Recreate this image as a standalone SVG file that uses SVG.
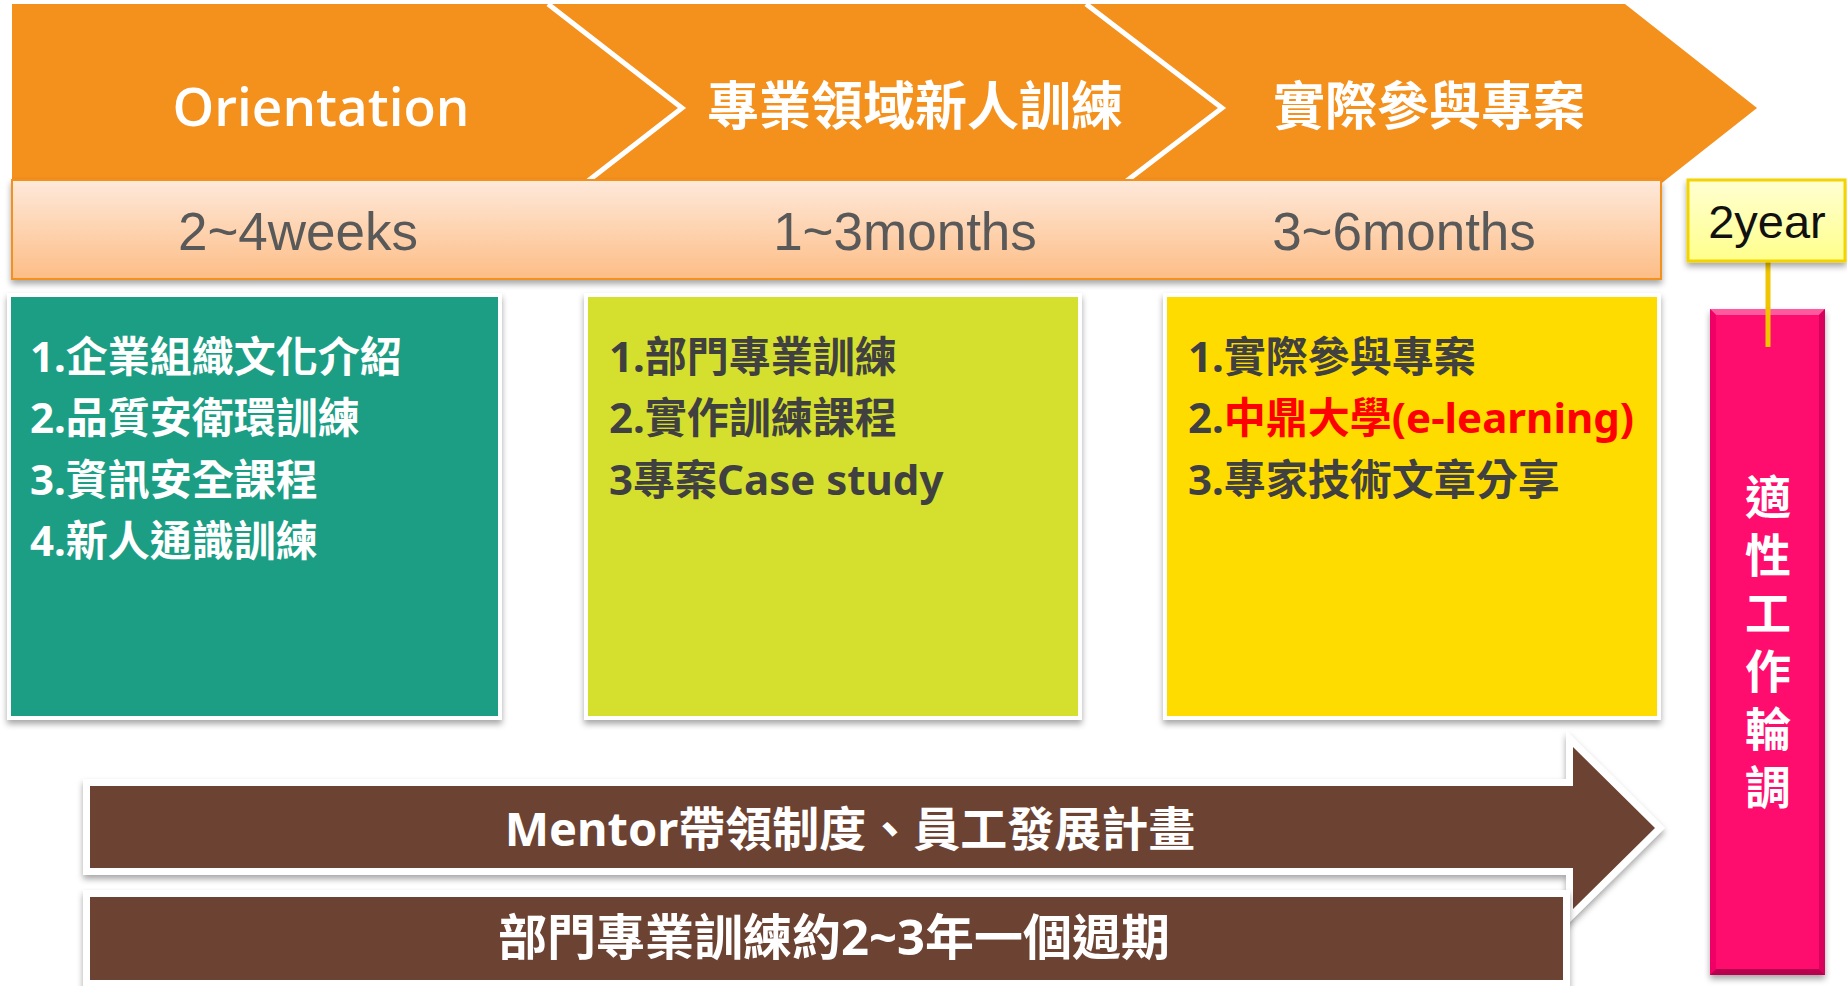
<svg xmlns="http://www.w3.org/2000/svg" width="1847" height="986" viewBox="0 0 1847 986">
<style>
.hdr{font-family:"Noto Sans CJK TC",sans-serif;font-size:52px;font-weight:700;fill:#fff;text-anchor:middle;}
.dur{font-family:"Liberation Sans",Arial,sans-serif;font-size:53px;fill:#595959;text-anchor:middle;}
.item{font-family:"Noto Sans","Noto Sans CJK TC",sans-serif;font-size:42px;font-weight:700;}
.wt{fill:#fff;}
.dk{fill:#404040;}
.red{fill:#FF0000;}
.box{stroke:#fff;stroke-width:8;paint-order:stroke;filter:url(#sh);}
.brown{fill:#6C4332;stroke:#fff;stroke-width:14;paint-order:stroke;stroke-linejoin:miter;filter:url(#sh);}
.bartxt{font-family:"Noto Sans","Noto Sans CJK TC",sans-serif;font-weight:700;fill:#fff;text-anchor:middle;}
.vt{font-family:"Noto Sans CJK TC",sans-serif;font-size:46px;font-weight:700;fill:#fff;writing-mode:vertical-rl;text-orientation:upright;letter-spacing:12px;}
</style>
<defs>
<linearGradient id="peach" x1="0" y1="0" x2="0" y2="1">
<stop offset="0" stop-color="#FEE9DA"/>
<stop offset="1" stop-color="#FDBD86"/>
</linearGradient>
<linearGradient id="lyel" x1="0" y1="0" x2="0" y2="1">
<stop offset="0" stop-color="#FFFFD2"/>
<stop offset="1" stop-color="#FFFF8C"/>
</linearGradient>
<filter id="sh" x="-5%" y="-10%" width="110%" height="130%">
<feDropShadow dx="0" dy="4" stdDeviation="3" flood-color="#000" flood-opacity="0.35"/>
</filter>
</defs>

<g id="phase-header">
<polygon points="12,4 1625,4 1757,108 1625,212 12,212" fill="#F4901C"/>
<polyline points="548,4 682,108 548,212" fill="none" stroke="#fff" stroke-width="5"/>
<polyline points="1086,4 1222,108 1086,212" fill="none" stroke="#fff" stroke-width="5"/>
<text x="321" y="126" font-family="'Open Sans',sans-serif" font-size="53" font-weight="600" fill="#fff" text-anchor="middle">Orientation</text>
<text class="hdr" x="915" y="125">專業領域新人訓練</text>
<text class="hdr" x="1429" y="125">實際參與專案</text>
</g>

<g id="duration-bar">
<rect x="12" y="180" width="1649" height="99" fill="url(#peach)" stroke="#F4901C" stroke-width="2" filter="url(#sh)"/>
<text class="dur" x="298" y="250">2~4weeks</text>
<text class="dur" x="905" y="250">1~3months</text>
<text class="dur" x="1404" y="250">3~6months</text>
</g>

<g id="box-orientation">
<rect class="box" x="11" y="297" width="487" height="419" fill="#1B9E84"/>
<text class="item wt" x="30" y="372">1.企業組織文化介紹</text>
<text class="item wt" x="30" y="433">2.品質安衛環訓練</text>
<text class="item wt" x="30" y="495">3.資訊安全課程</text>
<text class="item wt" x="30" y="556">4.新人通識訓練</text>
</g>

<g id="box-domain">
<rect class="box" x="588" y="297" width="490" height="419" fill="#D5E02F"/>
<text class="item dk" x="609" y="372">1.部門專業訓練</text>
<text class="item dk" x="609" y="433">2.實作訓練課程</text>
<text class="item dk" x="609" y="495">3專案Case study</text>
</g>

<g id="box-project">
<rect class="box" x="1167" y="297" width="490" height="419" fill="#FFDC00"/>
<text class="item dk" x="1188" y="372">1.實際參與專案</text>
<text class="item dk" x="1188" y="433">2.<tspan class="red">中鼎大學(e-learning)</tspan></text>
<text class="item dk" x="1188" y="495">3.專家技術文章分享</text>
</g>

<g id="connectors">
<line x1="1768" y1="261" x2="1768" y2="347" stroke="#F0C400" stroke-width="5"/>
</g>

<g id="year-box">
<rect x="1688" y="180" width="157" height="81" fill="url(#lyel)" stroke="#F2D400" stroke-width="3" filter="url(#sh)"/>
<text x="1767" y="238" font-family="'Liberation Sans',Arial,sans-serif" font-size="47" fill="#111" text-anchor="middle">2year</text>
</g>

<g id="rotation-bar">
<rect x="1710" y="309" width="115" height="666" fill="#FF0A6E" filter="url(#sh)"/>
<polygon points="1710,309 1825,309 1819,315 1716,315" fill="#FF5A9E"/>
<polygon points="1710,309 1716,315 1716,969 1710,975" fill="#F00066"/>
<polygon points="1825,309 1819,315 1819,969 1825,975" fill="#D8005C"/>
<polygon points="1710,975 1716,969 1819,969 1825,975" fill="#B8004E"/>
<line x1="1768" y1="309" x2="1768" y2="347" stroke="#F0C400" stroke-width="5"/>
<text class="vt" x="1768" y="474">適性工作輪調</text>
</g>

<g id="mentor-arrow">
<polygon class="brown" points="90,786 1573,786 1573,747 1655,828 1573,909 1573,868 90,868"/>
<text class="bartxt" x="850" y="846" font-size="47">Mentor帶領制度、員工發展計畫</text>
</g>

<g id="cycle-bar">
<rect class="brown" x="90" y="897" width="1473" height="83"/>
<text class="bartxt" x="834" y="955" font-size="49">部門專業訓練約2~3年一個週期</text>
</g>
</svg>
